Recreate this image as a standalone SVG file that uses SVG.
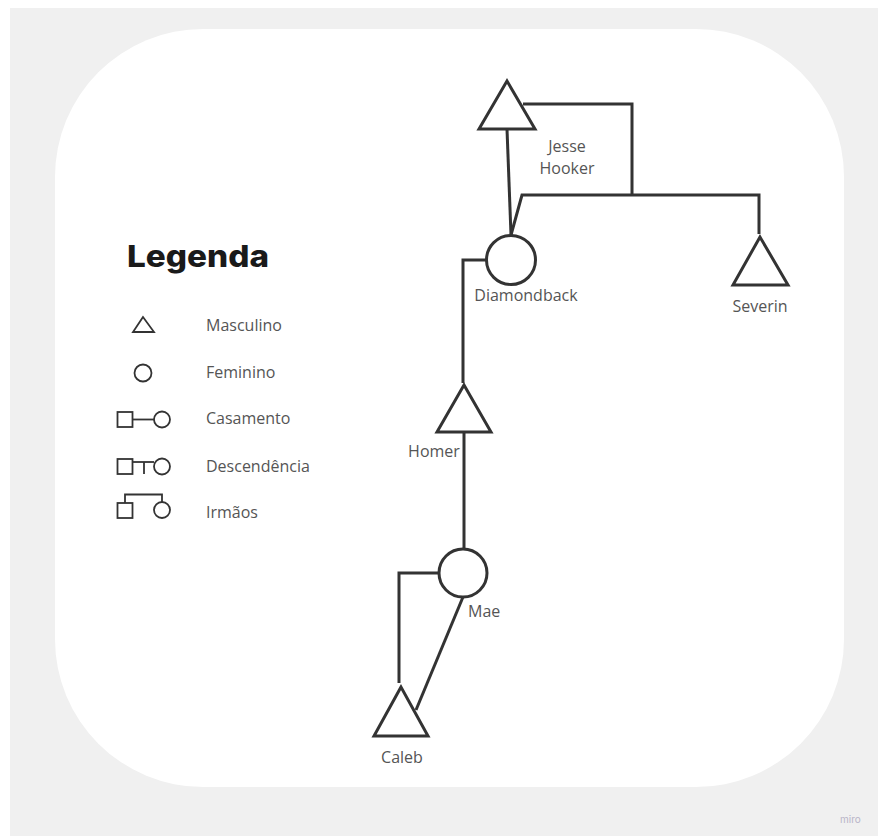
<svg xmlns="http://www.w3.org/2000/svg" width="878" height="836" viewBox="0 0 878 836">
  <style>
    .sym { fill: #ffffff; stroke: #333333; stroke-width: 3; stroke-linejoin: miter; }
    .con { fill: none; stroke: #333333; stroke-width: 3; stroke-linejoin: miter; }
    .lg { fill: #ffffff; stroke: #333333; stroke-width: 1.8; }
    .lgl { fill: none; stroke: #333333; stroke-width: 1.8; }
    .lbl { font-family: "Open Sans", "Noto Sans", sans-serif; font-size: 16px; fill: #555555; }
    .title { font-family: "Inter", "Lato", sans-serif; font-size: 30px; font-weight: 800; fill: #1a1a1a; }
  </style>
  <rect x="0" y="0" width="878" height="836" fill="#ffffff"/>
  <rect x="10" y="8" width="868" height="828" fill="#f0f0f0"/>
  <rect x="55" y="29" width="789" height="758" rx="148" ry="148" fill="#ffffff"/>
  <text x="840" y="823" font-family="Inter, sans-serif" font-size="10" fill="#b9b5c8">miro</text>

  <g id="legend">
    <text class="title" x="127" y="267" textLength="142" lengthAdjust="spacingAndGlyphs">Legenda</text>
    <g id="leg-masculino">
      <polygon class="lg" points="143,317 133,332 154,332"/>
      <text class="lbl" x="206" y="331">Masculino</text>
    </g>
    <g id="leg-feminino">
      <circle class="lg" cx="143" cy="373" r="8.5"/>
      <text class="lbl" x="206" y="378">Feminino</text>
    </g>
    <g id="leg-casamento">
      <rect class="lg" x="117.5" y="412" width="15" height="15"/>
      <line class="lgl" x1="132.5" y1="419.5" x2="154" y2="419.5"/>
      <circle class="lg" cx="162" cy="419.5" r="8"/>
      <text class="lbl" x="206" y="424">Casamento</text>
    </g>
    <g id="leg-descendencia">
      <rect class="lg" x="117.5" y="459" width="15" height="15"/>
      <line class="lgl" x1="132.5" y1="462" x2="154" y2="462"/>
      <line class="lgl" x1="144" y1="462" x2="144" y2="474"/>
      <circle class="lg" cx="162" cy="466.5" r="8"/>
      <text class="lbl" x="206" y="472">Descendência</text>
    </g>
    <g id="leg-irmaos">
      <rect class="lg" x="117.5" y="503" width="15" height="15"/>
      <polyline class="lgl" points="125,503 125,494.5 162,494.5 162,502"/>
      <circle class="lg" cx="162" cy="510" r="8"/>
      <text class="lbl" x="206" y="518">Irmãos</text>
    </g>
  </g>

  <g id="connectors">
    <polyline class="con" points="523,104 632,104 632,195"/>
    <line class="con" x1="507" y1="129" x2="511" y2="235"/>
    <polyline class="con" points="511,235 522,195 759,195 759,234"/>
    <polyline class="con" points="486,260 463,260 463,383"/>
    <line class="con" x1="464" y1="432" x2="464" y2="549"/>
    <polyline class="con" points="439,573 399,573 399,683"/>
    <line class="con" x1="463" y1="597" x2="416" y2="710"/>
  </g>

  <g id="jesse">
    <polygon class="sym" points="507,81 479,129 535,129"/>
    <text class="lbl" x="567" y="152" text-anchor="middle">Jesse</text>
    <text class="lbl" x="567" y="174" text-anchor="middle">Hooker</text>
  </g>
  <g id="severin">
    <polygon class="sym" points="760,237 733,285 788,285"/>
    <text class="lbl" x="760" y="312" text-anchor="middle">Severin</text>
  </g>
  <g id="diamondback">
    <circle class="sym" cx="511" cy="260" r="24.5"/>
    <text class="lbl" x="526" y="301" text-anchor="middle">Diamondback</text>
  </g>
  <g id="homer">
    <polygon class="sym" points="464,385 437,432 491,432"/>
    <text class="lbl" x="434" y="457" text-anchor="middle">Homer</text>
  </g>
  <g id="mae">
    <circle class="sym" cx="463" cy="573" r="24"/>
    <text class="lbl" x="468" y="617">Mae</text>
  </g>
  <g id="caleb">
    <polygon class="sym" points="401,687 374,736 428,736"/>
    <text class="lbl" x="402" y="763" text-anchor="middle">Caleb</text>
  </g>
</svg>
